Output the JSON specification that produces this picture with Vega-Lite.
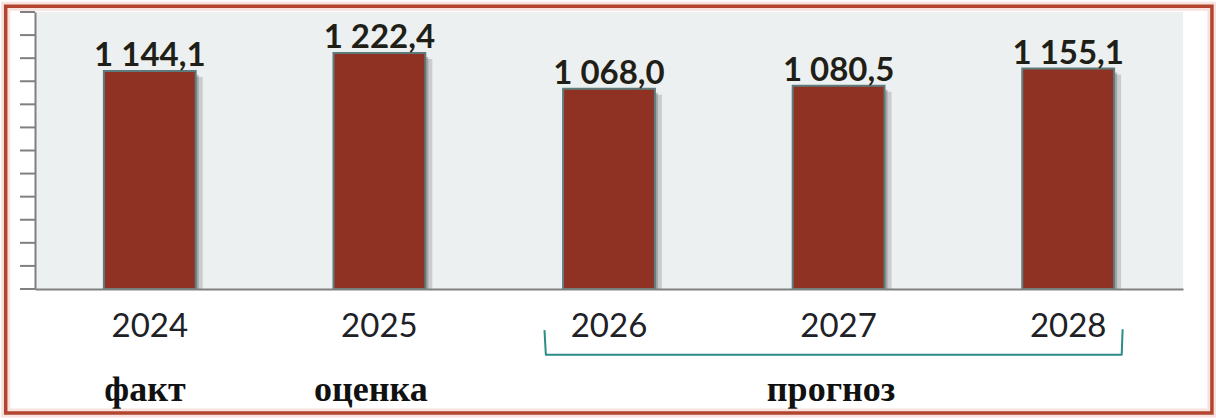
{
  "$schema": "https://vega.github.io/schema/vega-lite/v6.json",
  "width": 1148,
  "height": 277,
  "autosize": {"type": "none"},
  "padding": {"left": 35, "top": 12, "right": 33, "bottom": 129},
  "background": "#ffffff",
  "config": {
    "view": {"fill": "#edf0f1", "stroke": null},
    "locale": {"number": {"decimal": ",", "thousands": " ", "grouping": [3], "currency": ["", ""]}},
    "axisY": {
      "title": null,
      "labels": false,
      "ticks": false,
      "grid": false,
      "domainColor": "#808080",
      "domainWidth": 2,
      "zindex": 1
    }
  },
  "datasets": {
    "bars": [
      {"year": "2024", "value": 1144.1},
      {"year": "2025", "value": 1222.4},
      {"year": "2026", "value": 1068.0},
      {"year": "2027", "value": 1080.5},
      {"year": "2028", "value": 1155.1}
    ],
    "ticks": [
      {"t": 200}, {"t": 300}, {"t": 400}, {"t": 500}, {"t": 600}, {"t": 700}, {"t": 800},
      {"t": 900}, {"t": 1000}, {"t": 1100}, {"t": 1200}, {"t": 1300}, {"t": 1400}
    ],
    "bracket": [
      {"order": 1, "bx": 2.219, "by": 22},
      {"order": 2, "bx": 2.225, "by": -85},
      {"order": 3, "bx": 4.733, "by": -85},
      {"order": 4, "bx": 4.737, "by": 26}
    ],
    "notes": [
      {"bx": 0.479, "by": -285, "label": "факт"},
      {"bx": 1.463, "by": -285, "label": "оценка"},
      {"bx": 3.467, "by": -285, "label": "прогноз"}
    ],
    "frame": [
      {"fx1": -0.1276, "fx2": 5.126, "fy1": 1424.7, "fy2": -337}
    ]
  },
  "layer": [
    {
      "data": {"name": "bars"},
      "encoding": {
        "x": {
          "field": "year",
          "type": "ordinal",
          "scale": {"paddingInner": 0.6, "paddingOuter": 0.3},
          "axis": {
            "title": null,
            "labelAngle": 0,
            "labelFont": "Lato",
            "labelFontSize": 33,
            "labelColor": "#1e2126",
            "labelPadding": 21,
            "ticks": false,
            "domainColor": "#808080",
            "domainWidth": 2,
            "zindex": 1
          }
        },
        "y": {
          "field": "value",
          "type": "quantitative",
          "scale": {"domain": [200, 1400], "nice": false, "zero": false}
        }
      },
      "layer": [
        {
          "mark": {"type": "bar", "color": "#8a8a8a", "opacity": 0.35, "xOffset": 7, "yOffset": 6, "y2Offset": 0},
          "encoding": {"y2": {"datum": 200}}
        },
        {
          "mark": {"type": "bar", "color": "#5a5a5a", "opacity": 0.35, "xOffset": 3, "yOffset": 4, "y2Offset": 0},
          "encoding": {"y2": {"datum": 200}}
        },
        {
          "mark": {"type": "bar", "color": "#8f3223", "stroke": "#5e7c7e", "strokeWidth": 2},
          "encoding": {"y2": {"datum": 200}}
        },
        {
          "mark": {"type": "text", "font": "Lato", "fontWeight": "bold", "fontSize": 33, "color": "#1f1f17", "baseline": "alphabetic", "dy": -5},
          "encoding": {"text": {"field": "value", "type": "quantitative", "format": ",.1f"}}
        }
      ]
    },
    {
      "data": {"name": "ticks"},
      "mark": {"type": "rule", "color": "#808080", "strokeWidth": 2},
      "encoding": {
        "x": {"datum": -0.0653, "type": "quantitative", "scale": {"domain": [0, 5], "nice": false, "zero": false}, "axis": null},
        "x2": {"datum": 0},
        "y": {"field": "t", "type": "quantitative", "scale": {"domain": [200, 1400], "nice": false, "zero": false}}
      }
    },
    {
      "data": {"name": "bracket"},
      "mark": {"type": "line", "color": "#2a8c87", "strokeWidth": 2, "strokeJoin": "round"},
      "encoding": {
        "x": {"field": "bx", "type": "quantitative", "scale": {"domain": [0, 5], "nice": false, "zero": false}, "axis": null},
        "y": {"field": "by", "type": "quantitative", "scale": {"domain": [200, 1400], "nice": false, "zero": false}},
        "order": {"field": "order", "type": "quantitative"}
      }
    },
    {
      "data": {"name": "notes"},
      "mark": {"type": "text", "font": "Liberation Serif", "fontWeight": "bold", "fontSize": 36, "color": "#111111", "baseline": "alphabetic", "align": "center"},
      "encoding": {
        "x": {"field": "bx", "type": "quantitative", "scale": {"domain": [0, 5], "nice": false, "zero": false}, "axis": null},
        "y": {"field": "by", "type": "quantitative", "scale": {"domain": [200, 1400], "nice": false, "zero": false}},
        "text": {"field": "label", "type": "nominal"}
      }
    },
    {
      "data": {"name": "frame"},
      "mark": {"type": "rect", "fillOpacity": 0, "stroke": "#f2cfc8", "strokeWidth": 9, "strokeOpacity": 0.6},
      "encoding": {
        "x": {"field": "fx1", "type": "quantitative", "scale": {"domain": [0, 5], "nice": false, "zero": false}, "axis": null},
        "x2": {"field": "fx2"},
        "y": {"field": "fy1", "type": "quantitative", "scale": {"domain": [200, 1400], "nice": false, "zero": false}},
        "y2": {"field": "fy2"}
      }
    },
    {
      "data": {"name": "frame"},
      "mark": {"type": "rect", "fillOpacity": 0, "stroke": "#b3442f", "strokeWidth": 3.5},
      "encoding": {
        "x": {"field": "fx1", "type": "quantitative", "scale": {"domain": [0, 5], "nice": false, "zero": false}, "axis": null},
        "x2": {"field": "fx2"},
        "y": {"field": "fy1", "type": "quantitative", "scale": {"domain": [200, 1400], "nice": false, "zero": false}},
        "y2": {"field": "fy2"}
      }
    }
  ],
  "resolve": {"scale": {"x": "independent"}}
}
